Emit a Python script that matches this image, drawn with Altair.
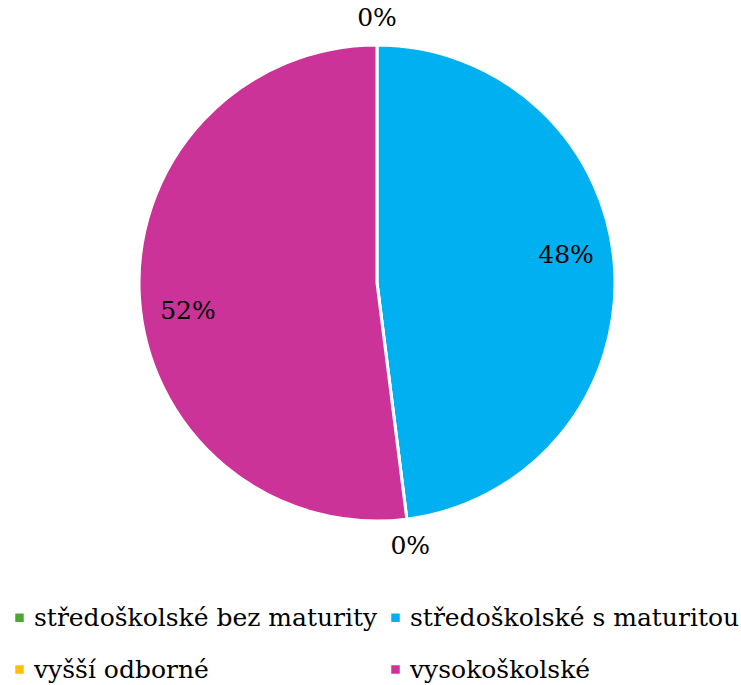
import altair as alt
import pandas as pd

categories = ["středoškolské bez maturity", "středoškolské s maturitou", "vyšší odborné", "vysokoškolské"]
values = [0, 48, 0, 52]
labels = ["0%", "48%", "0%", "52%"]
colors = ["#4EA72E", "#00B0F0", "#FFC000", "#CC3399"]

df = pd.DataFrame({"cat": categories, "value": values, "label": labels, "order": list(range(len(categories)))})

FONT = "DejaVu Serif"
CX, CY = 377, 283
theta_scale = alt.Scale(domain=[0, 100])

arcs = alt.Chart(df).mark_arc(outerRadius=238, stroke="white", strokeWidth=3).encode(
    theta=alt.Theta("value:Q", stack=True, scale=theta_scale),
    order=alt.Order("order:Q"),
    color=alt.Color(
        "cat:N",
        scale=alt.Scale(domain=categories, range=colors),
        sort=categories,
        legend=alt.Legend(
            title=None,
            orient="none",
            legendX=7,
            legendY=605,
            direction="horizontal",
            columns=2,
            symbolType="square",
            symbolSize=72,
            symbolStrokeWidth=0,
            labelFont=FONT,
            labelFontSize=25,
            labelColor="black",
            labelOffset=2,
            columnPadding=5,
            rowPadding=26,
            labelLimit=400,
        ),
    ),
    x=alt.value(CX),
    y=alt.value(CY),
)

text = alt.Chart(df).transform_window(
    cum="sum(value)", sort=[alt.SortField("order")], frame=[None, 0]
).transform_calculate(
    mid="datum.cum - datum.value / 2 - (datum.value == 0 ? 0 : 1.3)",
    r="datum.value == 0 ? 265 : 191",
).mark_text(font=FONT, fontSize=25, color="black").encode(
    theta=alt.Theta("mid:Q", stack=False, scale=theta_scale),
    radius=alt.Radius("r:Q", scale=None),
    text="label:N",
    x=alt.value(CX),
    y=alt.value(CY),
)

chart = (arcs + text).properties(
    width=741, height=685, autosize=alt.AutoSizeParams(type="none"), padding=0
).configure_view(stroke=None)

chart.save("out.html", embed_options={"renderer": "svg", "actions": False})
